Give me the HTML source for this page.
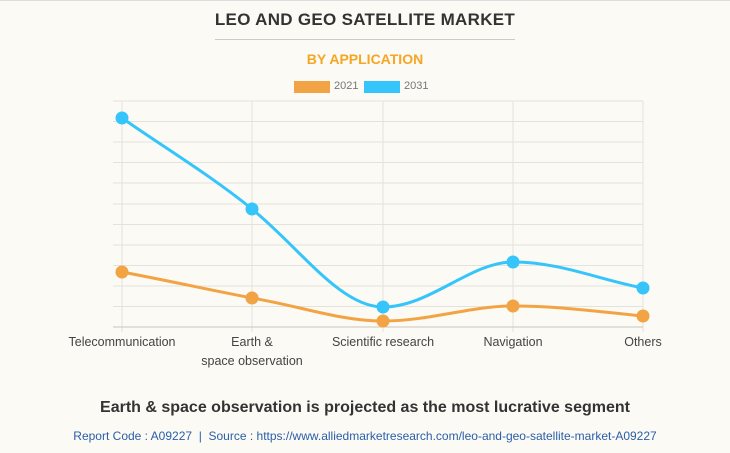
<!DOCTYPE html>
<html><head><style>
body{margin:0;width:730px;height:453px;background:#fbfaf5;font-family:"Liberation Sans",Arial,sans-serif;overflow:hidden;position:relative}
.t{position:absolute;left:0;width:730px;text-align:center}
</style></head><body>
<div style="position:absolute;left:0;top:0;width:730px;height:1px;background:#ddd"></div>
<div class="t" style="top:10px;font-size:17px;font-weight:bold;color:#333;letter-spacing:0.3px">LEO AND GEO SATELLITE MARKET</div>
<div style="position:absolute;left:215px;top:39px;width:300px;height:1px;background:#ccc"></div>
<div class="t" style="top:51px;font-size:14px;font-weight:bold;color:#f5a623">BY APPLICATION</div>
<div style="position:absolute;left:294px;top:81px;width:36px;height:12px;background:#f2a444"></div>
<div style="position:absolute;left:334px;top:80px;font-size:11px;color:#777">2021</div>
<div style="position:absolute;left:364px;top:81px;width:36px;height:12px;background:#35c5fb"></div>
<div style="position:absolute;left:404px;top:80px;font-size:11px;color:#777">2031</div>
<svg width="730" height="453" style="position:absolute;left:0;top:0">
<g stroke="#e4e2dc" stroke-width="1">
<line x1="113" y1="101" x2="643" y2="101"/><line x1="113" y1="121.5" x2="643" y2="121.5"/>
<line x1="113" y1="142" x2="643" y2="142"/><line x1="113" y1="162.5" x2="643" y2="162.5"/>
<line x1="113" y1="183" x2="643" y2="183"/><line x1="113" y1="204" x2="643" y2="204"/>
<line x1="113" y1="224.5" x2="643" y2="224.5"/><line x1="113" y1="245" x2="643" y2="245"/>
<line x1="113" y1="265.5" x2="643" y2="265.5"/><line x1="113" y1="286" x2="643" y2="286"/>
<line x1="113" y1="306.5" x2="643" y2="306.5"/>
<line x1="122" y1="101" x2="122" y2="332"/><line x1="252" y1="101" x2="252" y2="332"/>
<line x1="383" y1="101" x2="383" y2="332"/><line x1="513" y1="101" x2="513" y2="332"/>
<line x1="643" y1="101" x2="643" y2="332"/>
</g>
<line x1="113" y1="327" x2="643" y2="327" stroke="#c8c6c0"/>
<path d="M122,118 C165,148 210,175 252,209 C300,248 340,307 383,307 C430,307 470,262 513,262 C560,262 600,280 643,288" fill="none" stroke="#35c5fb" stroke-width="3"/>
<path d="M122,272 C165,280 210,290 252,298 C300,306 340,321 383,321 C430,321 470,306 513,306 C560,306 600,312 643,316" fill="none" stroke="#f2a444" stroke-width="3"/>
<g fill="#35c5fb"><circle cx="122" cy="118" r="6.5"/><circle cx="252" cy="209" r="6.5"/><circle cx="383" cy="307" r="6.5"/><circle cx="513" cy="262" r="6.5"/><circle cx="643" cy="288" r="6.5"/></g>
<g fill="#f2a444"><circle cx="122" cy="272" r="6.5"/><circle cx="252" cy="298" r="6.5"/><circle cx="383" cy="321" r="6.5"/><circle cx="513" cy="306" r="6.5"/><circle cx="643" cy="316" r="6.5"/></g>
<g font-size="12.5" fill="#444" text-anchor="middle" font-family="Liberation Sans,Arial,sans-serif">
<text x="122" y="346">Telecommunication</text>
<text x="252" y="346">Earth &amp;</text><text x="252" y="365">space observation</text>
<text x="383" y="346">Scientific research</text>
<text x="513" y="346">Navigation</text>
<text x="643" y="346">Others</text>
</g>
</svg>
<div class="t" style="top:399px;font-size:16px;font-weight:bold;color:#333">Earth &amp; space observation is projected as the most lucrative segment</div>
<div class="t" style="top:429px;font-size:12px;color:#2a5ea8">Report Code : A09227 &nbsp;|&nbsp; Source : https://www.alliedmarketresearch.com/leo-and-geo-satellite-market-A09227</div>
</body></html>
